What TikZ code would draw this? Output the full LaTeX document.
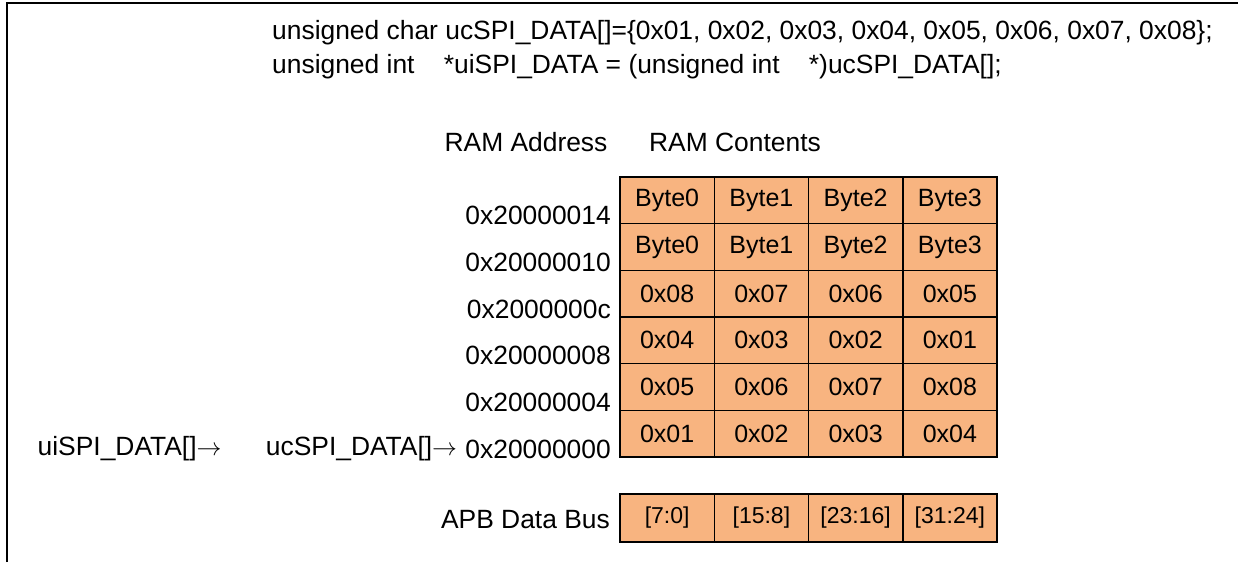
\documentclass[tikz,border=0pt]{standalone}
\usepackage{fontspec}
\setmainfont{Liberation Sans}
\usetikzlibrary{positioning}
\definecolor{cellfill}{RGB}{248,180,128}
\begin{document}
\begin{tikzpicture}[x=1pt,y=-1pt,font=\fontsize{26.4}{30}\selectfont]
\tikzset{cell/.style={draw,line width=1.5pt,fill=cellfill,minimum width=94.25pt,minimum height=46.67pt,inner sep=0pt,font=\fontsize{25}{30}\selectfont}}
\useasboundingbox (0,0) rectangle (1238,562);
\draw[line width=2.5pt] (7,562)--(7,3)--(1238,3);
\node[anchor=west,inner sep=0pt] (decl1) at (272,33) {unsigned char ucSPI\_DATA[]=\{0x01, 0x02, 0x03, 0x04, 0x05, 0x06, 0x07, 0x08\};};
\node[anchor=west,inner sep=0pt] (decl2) at (272,67) {unsigned int\ \ \ \ *uiSPI\_DATA = (unsigned int\ \ \ \ *)ucSPI\_DATA[];};
\node (ramaddr) at (526,142) {RAM Address};
\node (ramcont) at (735,142) {RAM Contents};
% memory rows, top to bottom
\foreach \addr [count=\r from 0] in {14,10,0c,08,04,00}
    \node[anchor=east,inner sep=0pt] (addr\r) at (611,{177+46.67*(\r+1)-8}) {0x200000\addr};
\foreach \row [count=\r from 0] in {{Byte0,Byte1,Byte2,Byte3},{Byte0,Byte1,Byte2,Byte3},{0x08,0x07,0x06,0x05},{0x04,0x03,0x02,0x01},{0x05,0x06,0x07,0x08},{0x01,0x02,0x03,0x04}}{
    \foreach \v [count=\c from 0] in \row
        \node[cell] (cell\r\c) at ({620+94.25*(\c+0.5)},{177+46.67*(\r+0.5)}) {\v};
}
\node[left=8pt of addr5,inner sep=0pt] (ucptr) {ucSPI\_DATA[]$\rightarrow$};
\node[left=44pt of ucptr,inner sep=0pt] (uiptr) {uiSPI\_DATA[]$\rightarrow$};
% bus lanes
\node[anchor=east,inner sep=0pt] (buslabel) at (610,520) {APB Data Bus};
\foreach \b [count=\c from 0] in {{[7:0]},{[15:8]},{[23:16]},{[31:24]}}
    \node[cell,minimum height=48pt,font=\fontsize{23}{27}\selectfont] (bus\c) at ({620+94.25*(\c+0.5)},518) {\b};
\end{tikzpicture}
\end{document}
